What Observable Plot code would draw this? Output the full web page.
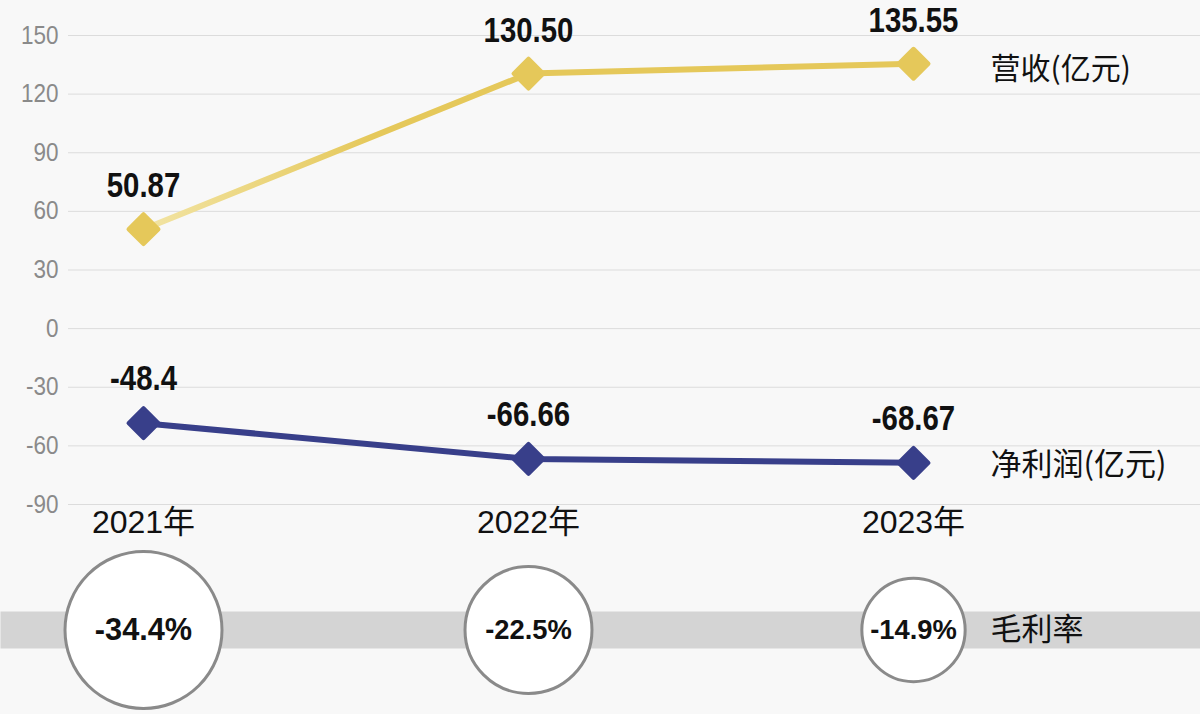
<!DOCTYPE html>
<html><head><meta charset="utf-8">
<script src="https://cdn.jsdelivr.net/npm/d3@7"></script>
<script src="https://cdn.jsdelivr.net/npm/@observablehq/plot@0.6"></script>
<style>
body{margin:0;background:#f8f8f8;}
#chart{position:relative;width:1200px;height:714px;background:#f8f8f8;overflow:hidden;}
#chart svg{position:absolute;left:0;overflow:visible;}
</style></head><body><div id="chart"></div>
<script>
const years = ["2021年","2022年","2023年"];
const revenue = [50.87, 130.50, 135.55];
const netProfit = [-48.4, -66.66, -68.67];
const grossMargin = [-34.4, -22.5, -14.9];
const yTicks = [150, 120, 90, 60, 30, 0, -30, -60, -90];
const seriesNames = ["营收(亿元)", "净利润(亿元)", "毛利率"];

const gold = "#e5c85a";
const goldPale = "#f2e4a4";
const navy = "#383f8a";
const sans = "'Liberation Sans',Arial,sans-serif";
const mixed = "'Liberation Sans','Noto Sans CJK SC',sans-serif";
const cjk = "'Noto Sans CJK SC','Noto Sans',sans-serif";

const rows = years.map((y, i) => ({year: y, revenue: revenue[i], net: netProfit[i], gm: grossMargin[i]}));
const xScale = {type: "point", domain: years, range: [143, 913], padding: 0, label: null};
const last = [rows[rows.length - 1]];

// gradient definition for the revenue line (pale at the first year)
const goldGradient = (index, scales) => {
  const x0 = scales.x(years[0]);
  const x1 = scales.x(years[1]);
  const ns = "http://www.w3.org/2000/svg";
  const defs = document.createElementNS(ns, "defs");
  const lg = document.createElementNS(ns, "linearGradient");
  lg.setAttribute("id", "goldGrad");
  lg.setAttribute("gradientUnits", "userSpaceOnUse");
  lg.setAttribute("x1", x0); lg.setAttribute("x2", x0 + (x1 - x0) * 0.6);
  lg.setAttribute("y1", 0); lg.setAttribute("y2", 0);
  [[0, goldPale], [1, gold]].forEach(([o, c]) => {
    const s = document.createElementNS(ns, "stop");
    s.setAttribute("offset", o); s.setAttribute("stop-color", c);
    lg.appendChild(s);
  });
  defs.appendChild(lg);
  return defs;
};

const topPlot = Plot.plot({
  width: 1200, height: 714,
  marginTop: 35, marginBottom: 210, marginLeft: 68, marginRight: 0,
  style: {background: "transparent", fontFamily: sans, overflow: "visible"},
  x: xScale,
  y: {domain: [-90, 150], label: null},
  marks: [
    goldGradient,
    Plot.gridY(yTicks, {stroke: "#dcdcdc", strokeOpacity: 1, strokeWidth: 1}),
    Plot.axisY(yTicks, {tickSize: 0, tickPadding: 10, fontSize: 25, fill: "#8a8a8a", fontFamily: sans, tickFormat: d => String(d), label: null, className: "narrow-tick"}),
    Plot.axisX({tickSize: 0, tickPadding: 6, fontSize: 32, fill: "#111", fontFamily: mixed, label: null}),
    Plot.line(rows, {x: "year", y: "revenue", stroke: "url(#goldGrad)", strokeWidth: 6}),
    Plot.line(rows, {x: "year", y: "net", stroke: navy, strokeWidth: 6}),
    Plot.dot(rows, {x: "year", y: "revenue", symbol: "diamond2", r: 13.5, fill: gold, stroke: gold, strokeWidth: 4, strokeLinejoin: "round"}),
    Plot.dot(rows, {x: "year", y: "net", symbol: "diamond2", r: 13.5, fill: navy, stroke: navy, strokeWidth: 4, strokeLinejoin: "round"}),
    Plot.text(rows, {x: "year", y: "revenue", text: d => d3.format(".2f")(d.revenue), dy: -43, fontSize: 35, fontWeight: "bold", fill: "#111", fontFamily: sans, className: "narrow-value"}),
    Plot.text(rows, {x: "year", y: "net", text: d => String(d.net), dy: -44, fontSize: 35, fontWeight: "bold", fill: "#111", fontFamily: sans, className: "narrow-value"}),
    Plot.text(last, {x: "year", y: "revenue", text: () => seriesNames[0], dx: 77, dy: 6, textAnchor: "start", fontSize: 30, fill: "#111", fontFamily: cjk}),
    Plot.text(last, {x: "year", y: "net", text: () => seriesNames[1], dx: 77, dy: 2, textAnchor: "start", fontSize: 31, fill: "#111", fontFamily: cjk})
  ]
});
topPlot.style.top = "0px";

const bottomPlot = Plot.plot({
  width: 1200, height: 174,
  marginTop: 71, marginBottom: 66, marginLeft: 0, marginRight: 0,
  style: {background: "transparent", fontFamily: sans, overflow: "visible"},
  x: {...xScale, axis: null},
  r: {domain: [0, 34.4], range: [0, 78.5]},
  marks: [
    Plot.frame({fill: "#d4d4d4", stroke: "none"}),
    Plot.dot(rows, {x: "year", r: d => Math.abs(d.gm), fill: "white", stroke: "#8a8a8a", strokeWidth: 3, frameAnchor: "middle"}),
    Plot.text(rows, {x: "year", text: d => d.gm.toFixed(1) + "%", frameAnchor: "middle", fontSize: d => Math.abs(d.gm) > 30 ? 32 : 28.5, fontWeight: "bold", fill: "#111", fontFamily: sans, className: "narrow-pct"}),
    Plot.text(last, {x: "year", text: () => seriesNames[2], dx: 77, frameAnchor: "middle", textAnchor: "start", fontSize: 31, fill: "#111", fontFamily: cjk})
  ]
});
bottomPlot.style.top = "540px";

const chart = document.getElementById("chart");
chart.append(topPlot, bottomPlot);

// condense the Arial-Narrow-like labels horizontally
function condense(svg, cls, k) {
  svg.querySelectorAll(`.${cls} text`).forEach(t => {
    const tr = t.getAttribute("transform") || "";
    t.setAttribute("transform", `${tr} scale(${k},1)`);
  });
}
condense(topPlot, "narrow-value", 0.84);
condense(topPlot, "narrow-tick", 0.9);
condense(bottomPlot, "narrow-pct", 0.96);
</script></body></html>
